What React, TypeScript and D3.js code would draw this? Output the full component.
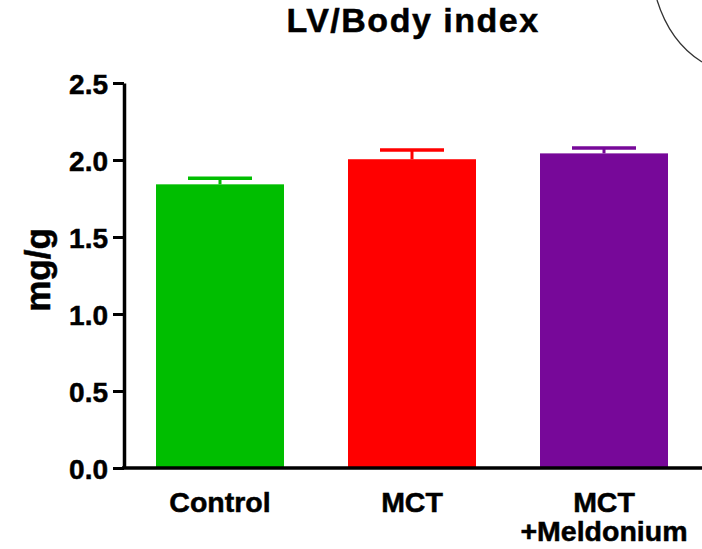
import React, { useEffect, useRef } from "react";
import * as d3 from "d3";

const groups = ["Control", "MCT", "MCT\n+Meldonium"];
const means = [1.842, 2.005, 2.043];
const sems = [0.04, 0.06, 0.035];
const colors = ["#00be00", "#ff0000", "#770899"];
const yTicks = [0, 0.5, 1.0, 1.5, 2.0, 2.5];

const App = () => {
  const ref = useRef<SVGSVGElement>(null);

  useEffect(() => {
    draw();
  });

  const draw = () => {
    const svg = d3.select(ref.current);
    svg.selectAll("*").remove();

    const font = "'Liberation Sans', Arial, sans-serif";
    const y = d3.scaleLinear().domain([0, 2.5]).range([468, 83]);
    const x = d3
      .scaleBand()
      .domain(groups)
      .range([124, 700])
      .paddingInner(1 / 3)
      .paddingOuter(1 / 6);

    // decorative arc at top right
    svg
      .append("path")
      .attr("d", "M657,0 Q670,42 702,62")
      .attr("fill", "none")
      .attr("stroke", "#333")
      .attr("stroke-width", 1.3);

    const boldText = (sel: any) =>
      sel
        .attr("font-family", font)
        .attr("font-weight", "bold")
        .attr("fill", "#000")
        .attr("stroke", "#000")
        .attr("stroke-width", 0.5);

    svg
      .append("text")
      .attr("x", 413)
      .attr("y", 32)
      .attr("text-anchor", "middle")
      .attr("font-size", "34px")
      .attr("letter-spacing", "1.5px")
      .call(boldText)
      .text("LV/Body index");

    const g = svg.append("g");

    // bars
    g.selectAll("rect.bar")
      .data(groups)
      .enter()
      .append("rect")
      .attr("class", "bar")
      .attr("x", (d) => x(d)!)
      .attr("y", (d, i) => y(means[i]))
      .attr("width", x.bandwidth())
      .attr("height", (d, i) => y(0) - y(means[i]))
      .attr("fill", (d, i) => colors[i]);

    // error bars
    groups.forEach((d, i) => {
      const cx = x(d)! + x.bandwidth() / 2;
      g.append("line")
        .attr("x1", cx)
        .attr("x2", cx)
        .attr("y1", y(means[i]))
        .attr("y2", y(means[i] + sems[i]))
        .attr("stroke", colors[i])
        .attr("stroke-width", 3);
      g.append("line")
        .attr("x1", cx - x.bandwidth() / 4)
        .attr("x2", cx + x.bandwidth() / 4)
        .attr("y1", y(means[i] + sems[i]))
        .attr("y2", y(means[i] + sems[i]))
        .attr("stroke", colors[i])
        .attr("stroke-width", 3.5);
    });

    // y axis
    const yAxis = g
      .append("g")
      .attr("transform", "translate(124,0)")
      .call(
        d3
          .axisLeft(y)
          .tickValues(yTicks)
          .tickFormat(d3.format(".1f"))
          .tickSize(11)
          .tickSizeOuter(0)
          .tickPadding(5)
      );
    yAxis.select(".domain").attr("stroke", "#000").attr("stroke-width", 3.5);
    yAxis.selectAll(".tick line").attr("stroke", "#000").attr("stroke-width", 3);
    yAxis
      .selectAll(".tick text")
      .call(boldText)
      .attr("font-size", "28px")
      .attr("dy", "0.36em");

    // x axis
    g.append("line")
      .attr("x1", 122)
      .attr("x2", 702)
      .attr("y1", y(0))
      .attr("y2", y(0))
      .attr("stroke", "#000")
      .attr("stroke-width", 3.5);

    // category labels, one text per line
    groups.forEach((d) => {
      const cx = x(d)! + x.bandwidth() / 2;
      d.split("\n").forEach((l, k) => {
        g.append("text")
          .attr("x", cx)
          .attr("y", 512 + k * 29)
          .attr("text-anchor", "middle")
          .attr("font-size", "28.5px")
          .call(boldText)
          .text(l);
      });
    });

    // y label
    svg
      .append("text")
      .attr("transform", "translate(50,270) rotate(-90)")
      .attr("text-anchor", "middle")
      .attr("font-size", "35px")
      .call(boldText)
      .text("mg/g");
  };

  return <svg ref={ref} width={702} height={549} style={{ position: "absolute", left: 0, top: 0 }} />;
};

export default App;
